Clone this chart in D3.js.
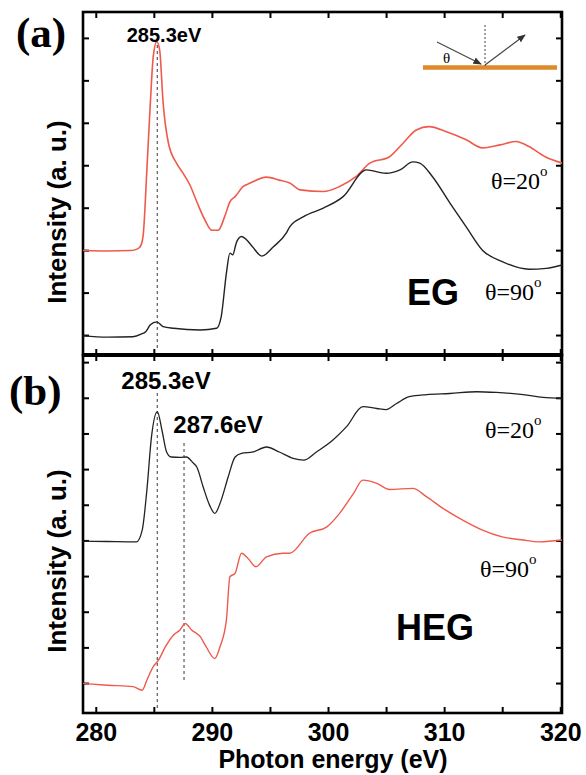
<!DOCTYPE html>
<html>
<head>
<meta charset="utf-8">
<script src="https://cdn.jsdelivr.net/npm/d3@7"></script>
<style>
  body { margin: 0; background: #fff; }
  svg text { fill: #000; }
  .sans { font-family: "Liberation Sans", Arial, sans-serif; font-weight: bold; }
  .serif { font-family: "Liberation Serif", "Times New Roman", serif; }
</style>
</head>
<body>
<div id="chart"></div>
<script>
// ---- data ----
// EG, theta = 20 (red)
var egE20 = [278.9, 281.0, 283.0, 283.6, 283.9, 284.1, 284.4, 284.7, 284.95, 285.25, 285.5, 285.8, 286.25, 286.95, 287.5, 288.1, 288.7, 289.4, 290.0, 290.55, 291.1, 291.55, 292.0, 292.7, 293.3, 294.7, 295.8, 296.7, 297.6, 299.6, 301.0, 302.4, 303.6, 305.3, 306.5, 307.6, 308.7, 310.2, 311.9, 313.3, 314.8, 316.2, 317.3, 318.7, 320.15];
var egI20 = [1.99, 1.98, 1.99, 2.03, 2.12, 2.40, 3.89, 5.47, 6.56, 6.91, 6.72, 5.47, 4.53, 4.05, 3.82, 3.54, 3.14, 2.71, 2.47, 2.47, 2.79, 3.14, 3.26, 3.50, 3.58, 3.72, 3.65, 3.58, 3.42, 3.38, 3.50, 3.73, 4.05, 4.20, 4.53, 4.83, 4.91, 4.79, 4.60, 4.41, 4.48, 4.56, 4.44, 4.20, 4.05];
// EG, theta = 90 (black)
var egE90 = [278.9, 281.0, 283.2, 283.9, 284.3, 284.7, 285.25, 285.8, 286.7, 289.0, 290.4, 290.8, 291.25, 291.55, 291.8, 292.1, 292.55, 293.0, 293.5, 294.3, 295.3, 296.4, 296.7, 297.9, 299.6, 301.3, 303.3, 305.0, 306.2, 307.3, 307.9, 309.0, 310.5, 311.9, 313.3, 315.0, 317.3, 318.8, 320.15];
var egI90 = [-0.02, -0.05, -0.04, 0.02, 0.08, 0.24, 0.31, 0.20, 0.16, 0.12, 0.16, 0.43, 1.46, 1.93, 1.89, 2.17, 2.32, 2.24, 2.08, 1.86, 2.08, 2.40, 2.55, 2.79, 2.99, 3.26, 3.89, 3.81, 3.89, 4.08, 4.05, 3.73, 3.11, 2.55, 2.00, 1.73, 1.55, 1.57, 1.65];
// HEG, theta = 20 (black)
var hegE20 = [278.9, 281.0, 283.5, 284.0, 284.4, 284.8, 285.3, 285.7, 286.1, 286.5, 287.25, 287.8, 288.4, 288.7, 289.25, 289.8, 290.25, 290.8, 291.4, 292.0, 292.55, 293.55, 294.7, 295.8, 297.0, 297.9, 299.0, 300.4, 301.6, 303.0, 304.2, 305.0, 305.9, 307.0, 308.5, 310.5, 312.8, 314.5, 316.8, 318.5, 320.15];
var hegI20 = [3.98, 3.97, 3.96, 4.29, 5.41, 6.91, 7.61, 7.09, 6.48, 6.34, 6.33, 6.34, 6.17, 6.06, 5.50, 4.99, 4.76, 5.13, 5.78, 6.34, 6.44, 6.48, 6.62, 6.48, 6.30, 6.25, 6.48, 6.81, 7.19, 7.75, 7.70, 7.67, 7.84, 8.03, 8.09, 8.12, 8.17, 8.15, 8.09, 8.01, 7.98];
// HEG, theta = 90 (red)
var hegE90 = [278.9, 281.0, 283.2, 284.0, 284.4, 284.95, 285.4, 286.0, 286.7, 287.25, 287.7, 288.25, 289.0, 289.5, 290.25, 290.7, 291.25, 291.55, 292.0, 292.55, 293.1, 293.8, 294.7, 296.1, 296.7, 298.4, 299.9, 301.0, 302.2, 303.0, 304.2, 305.3, 307.3, 308.5, 309.9, 311.6, 313.3, 315.0, 316.8, 318.2, 320.15];
var hegI90 = [-0.01, -0.06, -0.10, -0.20, 0.08, 0.46, 0.64, 1.02, 1.35, 1.49, 1.67, 1.49, 1.30, 1.02, 0.69, 1.02, 1.77, 2.98, 3.08, 3.64, 3.50, 3.26, 3.54, 3.64, 3.64, 4.20, 4.38, 4.76, 5.32, 5.69, 5.60, 5.43, 5.46, 5.22, 4.90, 4.57, 4.29, 4.10, 4.01, 3.96, 4.01];

var xTicks = [280, 285, 290, 295, 300, 305, 310, 315, 320];
var yTicksA = [0, 1, 2, 3, 4, 5, 6, 7];
var yTicksB = [0, 1, 2, 3, 4, 5, 6, 7, 8, 9];
var peaksA = [285.3];
var peaksB = [285.3, 287.6];

var width = 586, height = 775;
var red = "#ef5a4c", black = "#222";

var svg = d3.select("#chart").append("svg")
  .attr("width", width)
  .attr("height", height);

var x = d3.scaleLinear().domain([278.9, 320.15]).range([83, 562]);
var yA = d3.scaleLinear().domain([-0.47, 7.61]).range([355, 12]);
var yB = d3.scaleLinear().domain([-0.84, 9.2]).range([713, 355]);

function zip(e, v) { return e.map(function(d, i) { return [d, v[i]]; }); }

function drawPanel(y, yTicks, last) {
  var g = svg.append("g");
  var top = y.range()[1], bot = y.range()[0];

  g.append("g").attr("transform", "translate(0," + top + ")")
    .call(d3.axisBottom(x).tickValues(xTicks).tickSize(6).tickFormat(""));
  if (last) {
    g.append("g").attr("class", "sans").attr("transform", "translate(0," + bot + ")")
      .call(d3.axisBottom(x).tickValues(xTicks).tickSizeInner(-6).tickSizeOuter(0).tickPadding(10)
        .tickFormat(function(d) { return d % 10 === 0 ? d : ""; }))
      .selectAll("text").attr("font-size", 25).attr("font-family", null);
  } else {
    g.append("g").attr("transform", "translate(0," + bot + ")")
      .call(d3.axisTop(x).tickValues(xTicks).tickSize(6).tickFormat(""));
  }
  g.append("g").attr("transform", "translate(" + x.range()[0] + ",0)")
    .call(d3.axisRight(y).tickValues(yTicks).tickSize(6).tickFormat(""));
  g.append("g").attr("transform", "translate(" + x.range()[1] + ",0)")
    .call(d3.axisLeft(y).tickValues(yTicks).tickSize(6).tickFormat(""));

  g.selectAll(".domain").remove();
  g.selectAll(".tick line").attr("stroke", "#000").attr("stroke-width", 2);

  g.append("rect")
    .attr("x", x.range()[0]).attr("y", top)
    .attr("width", x.range()[1] - x.range()[0]).attr("height", bot - top)
    .attr("fill", "none").attr("stroke", "#000").attr("stroke-width", 2.6);
  return g;
}

var gA = drawPanel(yA, yTicksA, false);
var gB = drawPanel(yB, yTicksB, true);

// heavier shared border between the two panels
svg.append("line")
  .attr("x1", x.range()[0]).attr("x2", x.range()[1])
  .attr("y1", yA.range()[0]).attr("y2", yA.range()[0])
  .attr("stroke", "#000").attr("stroke-width", 4);

function curve(g, y, data, color, w) {
  var line = d3.line()
    .x(function(d) { return x(d[0]); })
    .y(function(d) { return y(d[1]); })
    .curve(d3.curveMonotoneX);
  g.append("path").datum(data)
    .attr("d", line)
    .attr("fill", "none")
    .attr("stroke", color)
    .attr("stroke-width", w);
}

// dashed guide lines
function guide(g, e, y1, y2) {
  g.append("line")
    .attr("x1", x(e)).attr("x2", x(e))
    .attr("y1", y1).attr("y2", y2)
    .attr("stroke", "#666").attr("stroke-width", 1.3)
    .attr("stroke-dasharray", "3,3");
}
guide(gA, peaksA[0], 45, 350);
guide(gB, peaksB[0], 393, 710);
guide(gB, peaksB[1], 443, 680);

curve(gA, yA, zip(egE20, egI20), red, 1.6);
curve(gA, yA, zip(egE90, egI90), black, 1.4);
curve(gB, yB, zip(hegE20, hegI20), black, 1.3);
curve(gB, yB, zip(hegE90, hegI90), red, 1.4);

// text
function txt(cls, s, tx, ty, size, anchor) {
  return svg.append("text").attr("class", cls)
    .attr("x", tx).attr("y", ty)
    .attr("font-size", size)
    .attr("text-anchor", anchor || "start")
    .text(s);
}
txt("serif", "(a)", 16, 47, 43).attr("font-weight", "bold");
txt("serif", "(b)", 9, 405, 43).attr("font-weight", "bold");

txt("sans", peaksA[0].toFixed(1) + "eV", 164, 42, 20, "middle");
txt("sans", peaksB[0].toFixed(1) + "eV", 166, 389, 24, "middle");
txt("sans", peaksB[1].toFixed(1) + "eV", 218, 433, 24, "middle");

txt("sans", "EG", 407, 305, 36);
txt("sans", "HEG", 396, 640, 36);

function theta(s, tx, ty) {
  var t = txt("serif", s, tx, ty, 24);
  t.append("tspan").attr("dy", -13).attr("font-size", 15).text("o");
}
theta("\u03b8=20", 491, 189);
theta("\u03b8=90", 485, 300);
theta("\u03b8=20", 485, 438);
theta("\u03b8=90", 480, 577);

[212, 561].forEach(function(cy) {
  svg.append("text").attr("class", "sans")
    .attr("transform", "translate(66," + cy + ") rotate(-90)")
    .attr("text-anchor", "middle")
    .attr("font-size", 26)
    .text("Intensity (a. u.)");
});

txt("sans", "Photon energy (eV)", 333, 768, 25, "middle");

// inset: reflection geometry
var inset = svg.append("g");
var defs = svg.append("defs");
defs.append("marker").attr("id", "arr")
  .attr("viewBox", "0 0 10 10").attr("refX", 9).attr("refY", 5)
  .attr("markerWidth", 7).attr("markerHeight", 7).attr("orient", "auto")
  .append("path").attr("d", "M0,1L10,5L0,9z").attr("fill", "#333");
inset.append("line").attr("x1", 423).attr("x2", 557).attr("y1", 67.5).attr("y2", 67.5)
  .attr("stroke", "#e08a2a").attr("stroke-width", 4.5);
inset.append("line").attr("x1", 485).attr("x2", 485).attr("y1", 25).attr("y2", 66)
  .attr("stroke", "#444").attr("stroke-width", 1).attr("stroke-dasharray", "2,2");
inset.append("line").attr("x1", 437).attr("y1", 42).attr("x2", 481).attr("y2", 64)
  .attr("stroke", "#444").attr("stroke-width", 1.2).attr("marker-end", "url(#arr)");
inset.append("line").attr("x1", 485).attr("y1", 65).attr("x2", 525).attr("y2", 35)
  .attr("stroke", "#444").attr("stroke-width", 1.2).attr("marker-end", "url(#arr)");
txt("serif", "\u03b8", 443, 63, 15);
</script>
</body>
</html>
